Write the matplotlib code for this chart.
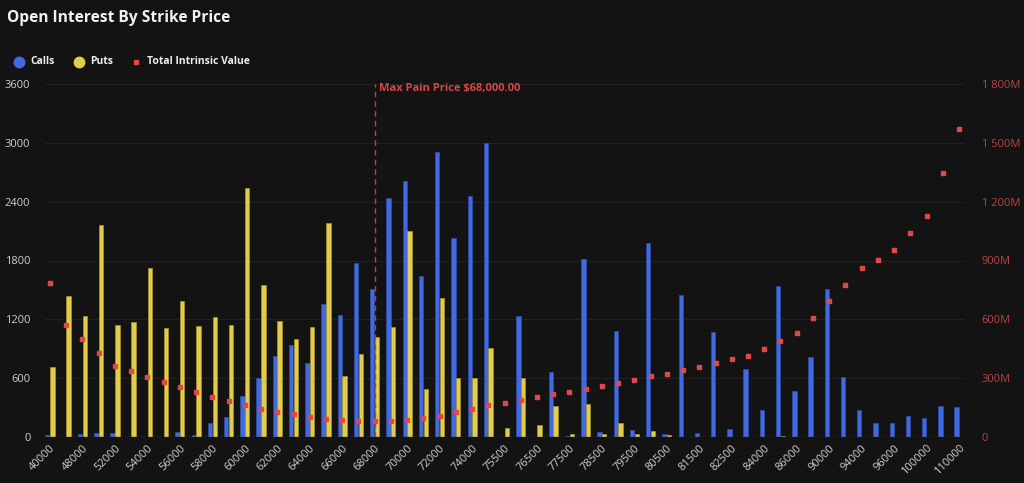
import matplotlib
matplotlib.use("Agg")
import matplotlib.pyplot as plt
import numpy as np
from matplotlib.ticker import FuncFormatter
from matplotlib.lines import Line2D

plt.rcParams['font.family'] = ['Open Sans', 'DejaVu Sans']

strikes = ["40000", "45000", "48000", "50000", "52000", "53000", "54000", "55000",
           "56000", "57000", "58000", "59000", "60000", "61000", "62000", "63000",
           "64000", "65000", "66000", "67000", "68000", "69000", "70000", "71000",
           "72000", "73000", "74000", "75000", "75500", "76000", "76500", "77000",
           "77500", "78000", "78500", "79000", "79500", "80000", "80500", "81000",
           "81500", "82000", "82500", "83000", "84000", "85000", "86000", "88000",
           "90000", "92000", "94000", "95000", "96000", "98000", "100000", "105000",
           "110000"]

calls = [17, 0, 27, 44, 44, 0, 0, 0,
         51, 17, 144, 202, 414, 598, 827, 940,
         756, 1357, 1248, 1778, 1511, 2434, 2612, 1641,
         2910, 2031, 2455, 3002, 0, 1238, 0, 660,
         7, 1819, 51, 1077, 68, 1983, 34, 1446,
         41, 1067, 79, 691, 280, 1539, 465, 817,
         1511, 615, 274, 144, 144, 219, 198, 318,
         301]

puts = [718, 1443, 1238, 2161, 1145, 1173, 1727, 1115,
        1385, 1135, 1227, 1145, 2540, 1552, 1183, 995,
        1125, 2178, 626, 848, 1022, 1125, 2096, 485,
        1419, 598, 598, 903, 89, 598, 127, 321,
        34, 332, 34, 147, 34, 62, 24, 0,
        0, 0, 0, 0, 0, 14, 0, 0,
        0, 0, 0, 0, 0, 0, 0, 0,
        0]

intrinsic_m = [786, 569, 499, 429, 364, 337, 304, 282,
               255, 231, 203, 185, 161, 142, 130, 115,
               101, 91, 87, 82, 82, 82, 87, 97,
               106, 125, 144, 161, 174, 190, 203, 217,
               231, 244, 258, 277, 291, 309, 323, 342,
               359, 378, 396, 415, 451, 489, 531, 608,
               692, 776, 863, 904, 952, 1039, 1126, 1345,
               1571]

series_names = ["Calls", "Puts", "Total Intrinsic Value"]
max_pain_strike = "68000"
max_pain_label = "Max Pain Price $68,000.00"
title = "Open Interest By Strike Price"

BG = "#131313"
BLUE = "#4169e1"
YELLOW = "#e3cc4a"
RED = "#e04848"
RED_TXT = "#b84444"
GRID = "#212121"
TXT = "#cfcfcf"

W, H = 1024, 483
fig = plt.figure(figsize=(W/100, H/100), dpi=100, facecolor=BG)
ax = fig.add_axes([45/W, 1-437/H, 920/W, 353/H])
ax.set_facecolor(BG)

x = np.arange(len(strikes))
w = 0.27
ax.bar(x - w/2 - 0.01, calls, width=w, color=BLUE, edgecolor="#2f4fa8", linewidth=0.5, zorder=2)
ax.bar(x + w/2 + 0.01, puts, width=w, color=YELLOW, edgecolor="#a8952f", linewidth=0.5, zorder=2)

ax.set_ylim(0, 3600)
ax.set_xlim(-0.31, len(strikes) - 1 + 0.37)
ax.set_yticks([0, 600, 1200, 1800, 2400, 3000, 3600])
ax.grid(axis='y', color=GRID, linewidth=0.8, zorder=0)
ax.set_axisbelow(True)
for s in ax.spines.values():
    s.set_visible(False)
ax.axhline(0, color="#3a3a3a", linewidth=1.0, zorder=3)
ax.tick_params(axis='y', length=0, colors=TXT, labelsize=8, pad=10.5)
ax.tick_params(axis='x', length=0, colors=TXT, labelsize=8, pad=4)
ax.set_xticks(x[::2])
ax.set_xticklabels(strikes[::2], rotation=45, ha='right', rotation_mode='anchor')

ax2 = ax.twinx()
ax2.set_ylim(0, 1800)
ax2.plot(x, intrinsic_m, linestyle='none', marker='s', markersize=3.2, color=RED, zorder=4)
ax2.set_yticks([0, 300, 600, 900, 1200, 1500, 1800])
ax2.yaxis.set_major_formatter(FuncFormatter(lambda v, p: "0" if v == 0 else f"{int(v):,}M".replace(",", " ")))
ax2.tick_params(axis='y', length=0, colors=RED_TXT, labelsize=8, pad=12)
for s in ax2.spines.values():
    s.set_visible(False)

mp = strikes.index(max_pain_strike)
ax.axvline(mp, color="#c43c3c", linestyle=(0, (4, 3)), linewidth=1.0, zorder=5)
ax.text(mp + 0.25, 3550, max_pain_label, color="#d64646", fontsize=8, fontweight='bold',
        va='center', ha='left', zorder=6)

fig.text(7/W, 1-18/H, title, color="#f2f2f2", fontsize=11.2,
         fontweight='bold', va='center', ha='left')

# legend drawn manually in figure pixel positions
leg_y = 1 - 62/H
markers = [("o", 7.5, BLUE, 19), ("o", 7.5, YELLOW, 79), ("s", 3.0, RED, 136)]
for (mk, ms, col, px), name in zip(markers, series_names):
    fig.add_artist(Line2D([px/W], [leg_y], marker=mk, markersize=ms, color=col,
                          linestyle='none', transform=fig.transFigure))
    fig.text((px + 11)/W, leg_y, name, color="#eeeeee", fontsize=7.5, fontweight='bold',
             va='center', ha='left')

fig.savefig("out.png", dpi=100, facecolor=BG)
